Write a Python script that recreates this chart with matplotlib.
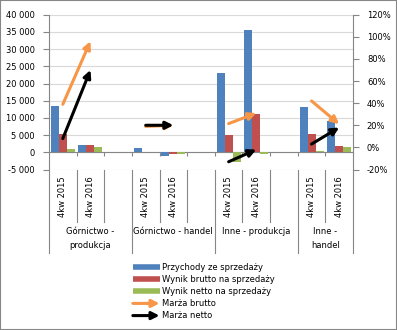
import matplotlib
matplotlib.use("Agg")
import matplotlib.pyplot as plt
from matplotlib.lines import Line2D
from matplotlib.patches import FancyArrowPatch, Rectangle
from matplotlib.legend_handler import HandlerBase
from matplotlib.ticker import FuncFormatter, MultipleLocator

# dane
grupy = ["Górnictwo -\nprodukcja", "Górnictwo - handel", "Inne - produkcja", "Inne -\nhandel"]
okresy = ["4kw 2015", "4kw 2016"]
przychody = [13500, 2200, 1300, -1000, 23050, 35550, 13170, 9100]
wynik_brutto = [5300, 2200, 0, -400, 5030, 11130, 5400, 1900]
wynik_netto = [900, 1600, 0, -400, -2700, -600, 380, 1540]
marza_brutto = [0.39, 0.96, 0.19, 0.20, 0.215, 0.31, 0.42, 0.21]
marza_netto = [0.08, 0.70, 0.20, 0.20, -0.13, -0.02, 0.03, 0.18]

NIEBIESKI = "#4F81BD"
CZERWONY = "#C0504D"
ZIELONY = "#9BBB59"
POMARANCZ = "#F79646"
SZARY = "#868686"
FS = 6.0

plt.rcParams["font.family"] = ["DejaVu Sans"]

# pozycje: 3 sloty na grupę (ostatnia grupa bez pustego slotu)
pozycje = []
for g in range(len(grupy)):
    for j in range(len(okresy)):
        pozycje.append(3 * g + j)
n_slotow = 3 * len(grupy) - 1

fig = plt.figure(figsize=(3.97, 3.30), dpi=100)
W, H = 397, 330
x0, x1, ytop, ybot = 49, 353, 14.7, 169.5
ax = fig.add_axes([x0 / W, 1 - ybot / H, (x1 - x0) / W, (ybot - ytop) / H])

szer = 0.29
ax.bar([p - szer for p in pozycje], przychody, width=szer, color=NIEBIESKI, zorder=3)
ax.bar(pozycje, wynik_brutto, width=szer, color=CZERWONY, zorder=3)
ax.bar([p + szer for p in pozycje], wynik_netto, width=szer, color=ZIELONY, zorder=3)

ax.set_xlim(-0.5, n_slotow - 0.5)
ax.set_ylim(-5000, 40000)
ax.yaxis.set_major_locator(MultipleLocator(5000))
ax.yaxis.set_major_formatter(FuncFormatter(lambda v, _: f"{v:,.0f}".replace(",", " ")))
ax.yaxis.grid(True, color="#D9D9D9", lw=0.8)
ax.set_axisbelow(True)

granice = [b + 0.5 for b in range(n_slotow - 1)]
ax.set_xticks(granice)
ax.set_xticklabels([])
ax.spines["bottom"].set_position(("data", 0))
for s in ["top", "right"]:
    ax.spines[s].set_visible(False)
for s in ["left", "bottom"]:
    ax.spines[s].set_color(SZARY)
ax.tick_params(axis="x", direction="out", length=3, color=SZARY)
ax.tick_params(axis="y", direction="out", length=4, color=SZARY, labelsize=FS, pad=6)

# oś pomocnicza dla marż
ax2 = ax.twinx()
ax2.set_ylim(-0.2, 1.2)
ax2.yaxis.set_major_locator(MultipleLocator(0.2))
ax2.yaxis.set_major_formatter(FuncFormatter(lambda v, _: f"{v * 100:.0f}%"))
for s in ["top", "left", "bottom"]:
    ax2.spines[s].set_visible(False)
ax2.spines["right"].set_color(SZARY)
ax2.tick_params(axis="y", direction="out", length=4, color=SZARY, labelsize=FS, pad=6)

for marza, kolor in [(marza_brutto, POMARANCZ), (marza_netto, "black")]:
    for g in range(len(grupy)):
        i, k = 2 * g, 2 * g + 1
        ax2.annotate("", xy=(pozycje[k], marza[k]), xytext=(pozycje[i], marza[i]),
                     arrowprops=dict(arrowstyle="-|>", color=kolor, lw=2.2,
                                     shrinkA=0, shrinkB=0, mutation_scale=11))

# etykiety kategorii pod wykresem
tr = ax.get_xaxis_transform()
dl_krotka = (222 - ybot) / (ybot - ytop)
dl_dluga = (253 - ybot) / (ybot - ytop)
for g in range(len(grupy)):
    for j, okres in enumerate(okresy):
        ax.text(3 * g + j, -(176 - ybot) / (ybot - ytop), okres, transform=tr, rotation=90,
                ha="center", va="top", fontsize=FS)
    start = 3 * g - 0.5
    koniec = min(3 * g + 2.5, n_slotow - 0.5)
    ax.text((start + koniec) / 2, -(227 - ybot) / (ybot - ytop), grupy[g], transform=tr,
            ha="center", va="top", fontsize=FS, linespacing=1.7)
for b in range(n_slotow + 1):
    xb = b - 0.5
    dl = dl_dluga if (b % 3 == 0 or b == n_slotow) else dl_krotka
    ax.plot([xb, xb], [0, -dl], transform=tr, color=SZARY, lw=0.8, clip_on=False)


class StrzalkaHandler(HandlerBase):
    def create_artists(self, legend, orig_handle, xdescent, ydescent, width, height, fontsize, trans):
        y = height / 2 - ydescent
        a = FancyArrowPatch((-xdescent, y), (width - xdescent, y), arrowstyle="-|>",
                            color=orig_handle.get_color(), lw=2.2, mutation_scale=11,
                            shrinkA=0, shrinkB=0, transform=trans)
        return [a]


uchwyty = [
    Line2D([], [], color=NIEBIESKI, lw=4, solid_capstyle="butt"),
    Line2D([], [], color=CZERWONY, lw=4, solid_capstyle="butt"),
    Line2D([], [], color=ZIELONY, lw=4, solid_capstyle="butt"),
    Line2D([], [], color=POMARANCZ),
    Line2D([], [], color="black"),
]
etykiety = ["Przychody ze sprzedaży", "Wynik brutto na sprzedaży", "Wynik netto na sprzedaży",
            "Marża brutto", "Marża netto"]
strz = StrzalkaHandler()
fig.legend(uchwyty, etykiety, loc="upper left", bbox_to_anchor=(127 / W, 1 - 257 / H),
           frameon=False, fontsize=FS, handlelength=3.2, handletextpad=0.3,
           labelspacing=0.38, borderpad=0.2,
           handler_map={uchwyty[3]: strz, uchwyty[4]: strz})

fig.patches.append(Rectangle((0, 0), 1, 1, transform=fig.transFigure, fill=False,
                             ec=SZARY, lw=1.5))

fig.savefig("out.png", dpi=100)
